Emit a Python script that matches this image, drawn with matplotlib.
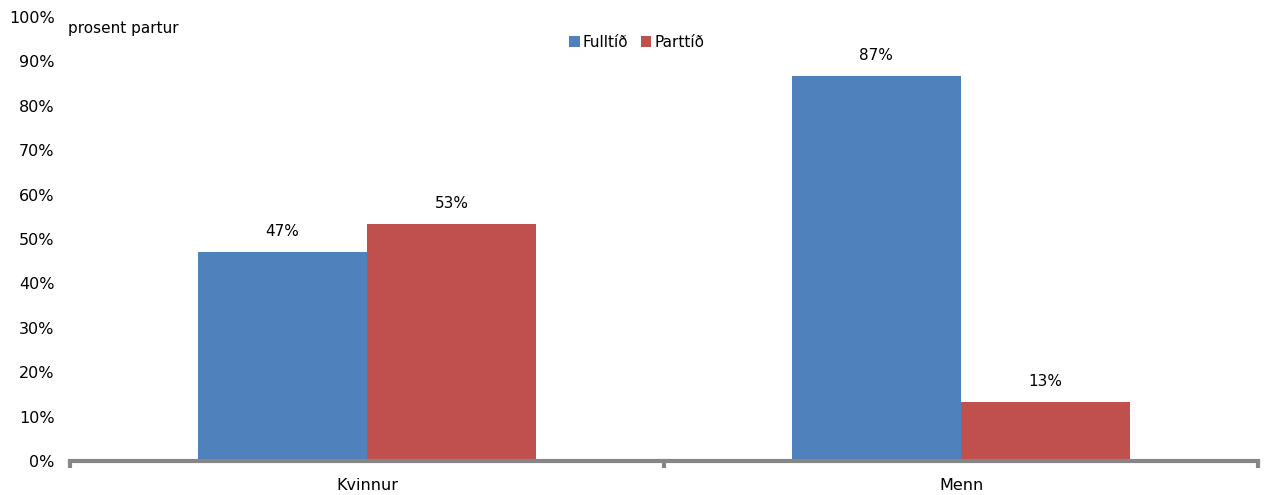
import matplotlib.pyplot as plt
import numpy as np

# Data
categories = ['Kvinnur', 'Menn']
fulltid = [47.1, 86.7]
parttid = [53.4, 13.3]
series_names = ['Fulltíð', 'Parttíð']
yticks = list(range(0, 101, 10))

blue = '#4F81BD'
red = '#C0504D'
grey = '#868686'

plt.rcParams['font.family'] = ['DejaVu Sans']
fs = 11

fig = plt.figure(figsize=(12.65, 4.95), dpi=100)
ax = fig.add_axes([0.0553, 0.0687, 0.9392, 0.897])

x = np.arange(len(categories))
w = 0.285
b1 = ax.bar(x - w / 2, fulltid, w, color=blue, label=series_names[0])
b2 = ax.bar(x + w / 2, parttid, w, color=red, label=series_names[1])

for bars, vals in ((b1, fulltid), (b2, parttid)):
    for r, v in zip(bars, vals):
        ax.text(r.get_x() + r.get_width() / 2, v + 3, f'{round(v)}%',
                ha='center', va='bottom', fontsize=fs)

ax.set_xlim(-0.5, 1.5)
ax.set_ylim(0, 100)
ax.set_yticks(yticks)
ax.set_yticklabels([f'{t}%' for t in yticks], fontsize=11.5)
ax.tick_params(axis='y', length=0, pad=11)

ax.set_xticks([-0.5, 0.5, 1.5], minor=False)
ax.set_xticklabels([])
ax.set_xticks(x, minor=True)
ax.set_xticklabels(categories, minor=True, fontsize=11.5)
ax.tick_params(axis='x', which='major', length=5, width=3, color=grey, direction='out')
ax.tick_params(axis='x', which='minor', length=0, pad=12)

for s in ('top', 'right', 'left'):
    ax.spines[s].set_visible(False)
ax.spines['bottom'].set_color(grey)
ax.spines['bottom'].set_linewidth(3)

ax.text(-0.002, 0.975, 'prosent partur', transform=ax.transAxes,
        ha='left', va='center', fontsize=fs)

ax.legend(loc='upper center', bbox_to_anchor=(0.477, 0.99), ncol=2, frameon=False,
          fontsize=fs, handlelength=0.7, handleheight=0.7, handletextpad=0.2,
          columnspacing=0.8)

fig.savefig('out.png', dpi=100)
